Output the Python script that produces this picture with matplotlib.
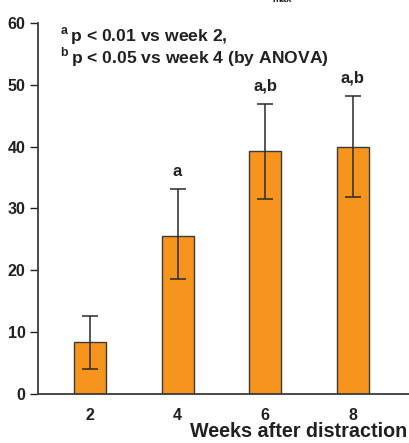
import matplotlib
matplotlib.use('Agg')
import matplotlib.pyplot as plt

# データ
weeks = [2, 4, 6, 8]
means = [8.4, 25.5, 39.3, 40.0]
err_low = [4.3, 6.9, 7.8, 8.2]
err_high = [4.3, 7.6, 7.6, 8.2]
sig_labels = ['', 'a', 'a,b', 'a,b']
yticks = [0, 10, 20, 30, 40, 50, 60]

plt.rcParams['font.family'] = ['Liberation Sans', 'DejaVu Sans']
plt.rcParams['font.weight'] = 'bold'
plt.rcParams['mathtext.fontset'] = 'custom'
plt.rcParams['mathtext.rm'] = 'Liberation Sans:bold'

TXT = '#231f20'

fig = plt.figure(figsize=(4.1, 4.43), dpi=100)
ax = fig.add_axes([0.0927, 0.11, 0.9073, 0.8388])

ax.bar(weeks, means, width=0.73, color='#F7941D', edgecolor='#3a3a3a', linewidth=1.0, zorder=2)
ax.errorbar(weeks, means, yerr=[err_low, err_high], fmt='none', ecolor='#2a2a2a',
            elinewidth=1.1, capsize=5.5, capthick=1.1, zorder=3)

for x, m, eh, lab in zip(weeks, means, err_high, sig_labels):
    if lab:
        ax.text(x, m + eh + 1.6, lab, ha='center', va='bottom', fontsize=12, color=TXT)

ax.set_xlim(0.813, 9.31)
ax.set_ylim(0, 60)
ax.set_xticks(weeks)
ax.set_yticks(yticks)
ax.tick_params(axis='x', length=0, pad=10, labelsize=11.5, colors=TXT)
ax.tick_params(axis='y', length=6, width=1, pad=3, labelsize=11.5, colors=TXT, direction='out')

for s in ['top', 'right']:
    ax.spines[s].set_visible(False)
for s in ['left', 'bottom']:
    ax.spines[s].set_color('#3a3a3a')
    ax.spines[s].set_linewidth(1.3)

# 注釈
ax.text(0.058, 0.965, r'$^{\rm a}\,$p < 0.01 vs week 2,', transform=ax.transAxes,
        fontsize=12.6, va='center', ha='left', color=TXT)
ax.text(0.058, 0.906, r'$^{\rm b}\,$p < 0.05 vs week 4 (by ANOVA)', transform=ax.transAxes,
        fontsize=12.6, va='center', ha='left', color=TXT)

fig.text(0.993, 0.004, 'Weeks after distraction', ha='right', va='bottom', fontsize=14.2, color=TXT)
# 上端で切れているタイトルの一部
fig.text(0.665, 1.003, 'max', ha='left', va='center', fontsize=7, color=TXT)

plt.savefig('out.png', dpi=100)
